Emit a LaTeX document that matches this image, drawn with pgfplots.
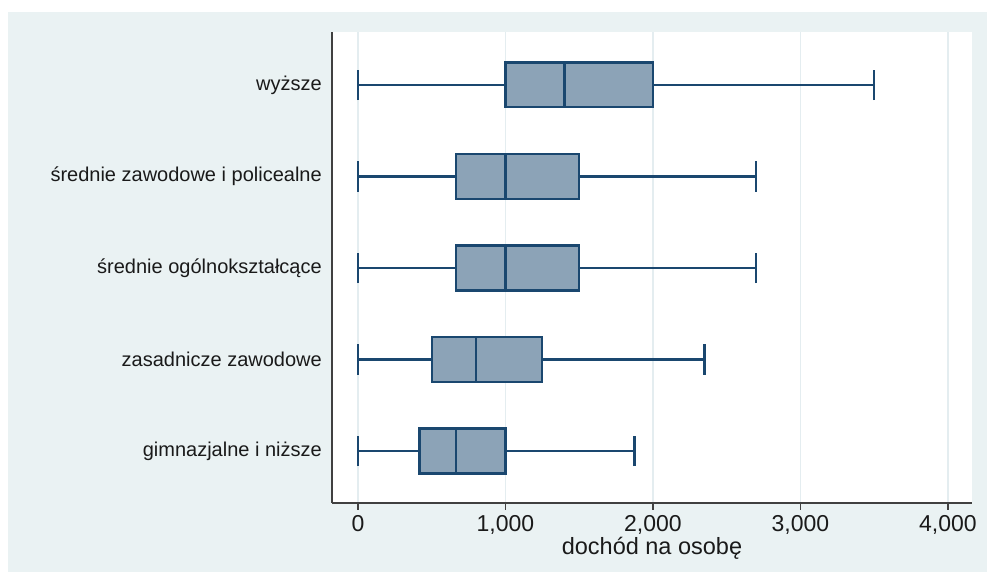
\documentclass[border=0pt]{standalone}
\usepackage{pgfplots}
\pgfplotsset{compat=1.18}
\usepgfplotslibrary{statistics}
\usepackage{fontspec}
\setmainfont{Liberation Sans}
\definecolor{panel}{HTML}{EAF2F3}
\definecolor{gridc}{HTML}{E4EDF0}
\definecolor{boxline}{RGB}{26,71,111}
\definecolor{boxfill}{RGB}{140,163,183}
\definecolor{axisc}{HTML}{404040}
\definecolor{txt}{HTML}{1A1A1A}
\begin{document}
\begin{tikzpicture}
\fill[white] (-332pt,-69pt) rectangle (655pt,503pt);
\fill[panel] (-324pt,-69pt) rectangle (655pt,491pt);
\begin{axis}[
  at={(0pt,0pt)}, anchor=south west,
  scale only axis, width=640pt, height=471pt,
  xmin=-176, xmax=4163, ymin=0.432, ymax=5.579,
  axis background/.style={fill=white},
  axis x line*=bottom, axis y line*=left,
  axis line style={color=axisc, line width=1.6pt},
  xtick={0,1000,2000,3000,4000},
  scaled x ticks=false,
  xtick pos=bottom, tick align=outside,
  major tick length=7pt,
  x tick style={color=axisc, line width=1.6pt},
  xmajorgrids,
  grid style={color=gridc, line width=1.5pt},
  ytick={1,2,3,4,5},
  yticklabels={gimnazjalne i niższe, zasadnicze zawodowe, średnie ogólnokształcące, średnie zawodowe i policealne, wyższe},
  y tick style={draw=none},
  x tick label style={font=\fontsize{23}{27}\selectfont, text=txt, inner sep=2pt, yshift=-3pt,
     /pgf/number format/assume math mode=true, /pgf/number format/1000 sep={,}},
  y tick label style={font=\fontsize{20}{24}\selectfont, text=txt, anchor=east, inner sep=0pt, xshift=-3pt},
  xlabel={dochód na osobę},
  xlabel style={at={(axis description cs:0.5,-0.1087)}, anchor=base, inner sep=0pt,
     font=\fontsize{23.5}{28}\selectfont, text=txt},
  boxplot/draw direction=x,
  boxplot/box extend=0.49,
  boxplot/whisker extend=0.33,
  boxplot/every box/.style={fill=boxfill},
]
\addplot[boxline, line width=2.2pt, boxplot prepared={draw position=5,
  lower whisker=0, lower quartile=1000, median=1400, upper quartile=2000, upper whisker=3500}] coordinates {};
\addplot[boxline, line width=2.2pt, boxplot prepared={draw position=4,
  lower whisker=0, lower quartile=667, median=1000, upper quartile=1500, upper whisker=2700}] coordinates {};
\addplot[boxline, line width=2.2pt, boxplot prepared={draw position=3,
  lower whisker=0, lower quartile=667, median=1000, upper quartile=1500, upper whisker=2700}] coordinates {};
\addplot[boxline, line width=2.2pt, boxplot prepared={draw position=2,
  lower whisker=0, lower quartile=500, median=800, upper quartile=1250, upper whisker=2350}] coordinates {};
\addplot[boxline, line width=2.2pt, boxplot prepared={draw position=1,
  lower whisker=0, lower quartile=417, median=667, upper quartile=1000, upper whisker=1875}] coordinates {};
\end{axis}
\pgfresetboundingbox
\path[use as bounding box] (-332pt,-69pt) rectangle (655pt,503pt);
\end{tikzpicture}
\end{document}
